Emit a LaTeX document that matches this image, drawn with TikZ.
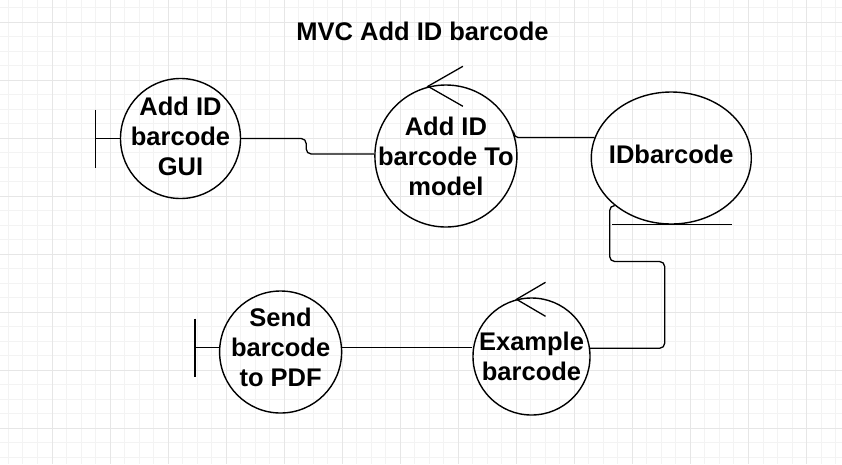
\documentclass[tikz,border=0pt]{standalone}
\usepackage{fontspec}
\setmainfont{Liberation Sans}
\usepackage{tikz}
\usetikzlibrary{positioning,shapes.geometric,calc}
\definecolor{ink}{HTML}{000000}
\definecolor{gridminor}{HTML}{F3F3F3}
\definecolor{gridmajor}{HTML}{E6E6E6}

\begin{document}
\begin{tikzpicture}[x=1pt,y=-1pt,node distance=1.0cm,>=latex]
  \tikzstyle{txt}=[font=\fontsize{25.5}{30}\selectfont\bfseries,align=center,inner sep=0pt]
  \tikzstyle{bnd}=[draw=ink,line width=1.4pt,circle,minimum size=120pt,inner sep=0pt]
  \tikzstyle{ctrl}=[draw=ink,line width=1.4pt,circle,minimum size=142pt,inner sep=0pt]
  \tikzstyle{ent}=[draw=ink,line width=1.4pt,ellipse,minimum width=160pt,minimum height=132pt,inner sep=0pt]
  \tikzstyle{conn}=[draw=ink,line width=1.3pt]
  \tikzstyle{minorgrid}=[draw=gridminor,line width=1pt]
  \tikzstyle{majorgrid}=[draw=gridmajor,line width=1pt]
  % page and grid
  \fill[white] (0,0) rectangle (842,464);
  \useasboundingbox (0,0) rectangle (842,464);
  \foreach \i in {0,...,57} \draw[minorgrid] ({8.47+14.51*\i},0) -- ++(0,464);
  \foreach \i in {0,...,31} \draw[minorgrid] (0,{7.49+14.51*\i}) -- ++(842,0);
  \foreach \i in {0,...,13} \draw[majorgrid] ({52+58.04*\i},0) -- ++(0,464);
  \foreach \i in {0,...,7} \draw[majorgrid] (0,{22+58.04*\i}) -- ++(842,0);
  % robustness objects
  \node[txt] (title) at (422.5,31.7) {MVC Add ID barcode};
  \node[bnd,label={[txt,yshift=2pt]center:Add ID\\barcode\\GUI}] (gui) at (180.5,138.5) {};
  \node[ctrl,right=133pt of gui,yshift=-17.5pt,label={[txt]center:Add ID\\barcode To\\model}] (tomodel) {};
  \node[ent,right=73pt of tomodel,yshift=-2pt,label={[txt,yshift=4pt]center:IDbarcode}] (idbc) {};
  \node[ctrl,minimum size=117pt,label={[txt]center:Example\\barcode}] (example) at (531.5,356.5) {};
  \node[bnd,minimum size=122pt,left=130pt of example,yshift=4.5pt,label={[txt,yshift=5pt]center:Send\\barcode\\to PDF}] (pdf) {};
  % boundary bars
  \draw[conn] (gui.west) -- ++(-24,0) coordinate (guibar);
  \draw[conn] ([yshift=29pt]guibar) -- ([yshift=-29pt]guibar);
  \draw[conn] (pdf.176) -- ++(-24,0) coordinate (pdfbar);
  \draw[conn] ([yshift=29pt]pdfbar) -- ([yshift=-29pt]pdfbar);
  % control arrows
  \draw[conn] ([xshift=-18pt,yshift=-2pt]tomodel.north) ++(35,-20) -- ([xshift=-18pt,yshift=-2pt]tomodel.north) -- ++(35,20);
  \draw[conn] ([xshift=-15pt,yshift=-2pt]example.north) ++(29,-17) -- ([xshift=-15pt,yshift=-2pt]example.north) -- ++(29,17);
  % entity underline
  \draw[conn] ([xshift=-59pt]idbc.south) -- ([xshift=61pt]idbc.south);
  % links
  \draw[conn,rounded corners=5pt] (gui.east) -- ++(65,0) |- ([yshift=2pt]tomodel.west);
  \draw[conn,rounded corners=4pt] (tomodel.18) |- (idbc.165);
  \draw[conn,rounded corners=5pt] (idbc.220) -| ++(-5,56) -- ++(55,0) |- (example.8);
  \draw[conn] (pdf.4) -- (pdf.4 -| example.west);
\end{tikzpicture}
\end{document}
